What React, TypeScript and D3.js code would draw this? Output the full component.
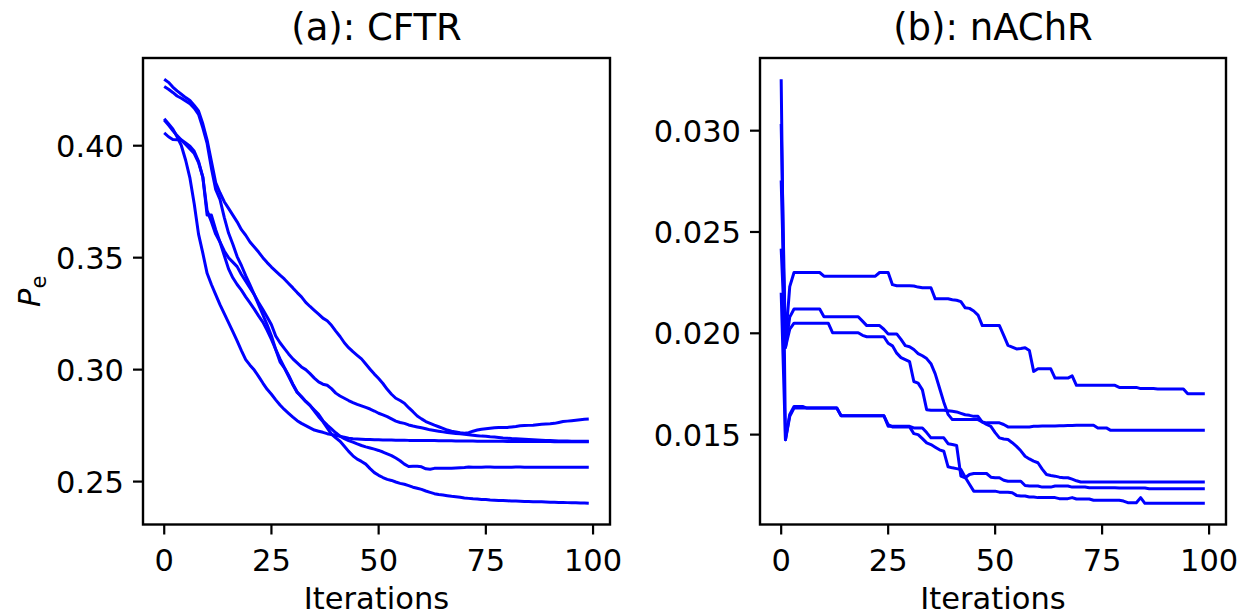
import React from "react";
import * as d3 from "d3";

const iterations = Array.from({ length: 100 }, (_, i) => i);
const xTicks = [0, 25, 50, 75, 100];
const cftrTicks = [0.25, 0.3, 0.35, 0.4];
const nachrTicks = [0.015, 0.02, 0.025, 0.03];
const titles = ["(a): CFTR", "(b): nAChR"];

const cftrRun1 = [
  0.4297, 0.4283, 0.4262, 0.4245, 0.423, 0.4215, 0.4202, 0.418, 0.4155, 0.4098,
  0.4025, 0.393, 0.3835, 0.379, 0.375, 0.372, 0.369, 0.366, 0.3625, 0.36,
  0.357, 0.3548, 0.3525, 0.35, 0.3478, 0.3458, 0.344, 0.3422, 0.3405, 0.3385,
  0.3365, 0.3344, 0.3325, 0.33, 0.3282, 0.3265, 0.3248, 0.323, 0.3218, 0.3198,
  0.3172, 0.3148, 0.312, 0.3098, 0.308, 0.3064, 0.3048, 0.3025, 0.3002, 0.298,
  0.296, 0.2938, 0.2912, 0.289, 0.2872, 0.2862, 0.285, 0.283, 0.2812, 0.2793,
  0.278, 0.2768, 0.276, 0.2752, 0.2745, 0.2738, 0.273, 0.2725, 0.2722, 0.2718,
  0.2716, 0.2718, 0.2725, 0.273, 0.2734, 0.2736, 0.2738, 0.274, 0.2741, 0.2742,
  0.2742, 0.2744, 0.2746, 0.2749, 0.275, 0.2751, 0.2752, 0.2754, 0.2756, 0.2757,
  0.2758, 0.276, 0.2764, 0.2768, 0.277, 0.2772, 0.2774, 0.2776, 0.2778, 0.2779,
];
const cftrRun2 = [
  0.4264, 0.4252, 0.4238, 0.4222, 0.4212, 0.42, 0.4188, 0.4168, 0.414, 0.408,
  0.401, 0.39, 0.3805, 0.376, 0.368, 0.361, 0.356, 0.3505, 0.3465, 0.342,
  0.3378, 0.3335, 0.329, 0.3245, 0.32, 0.315, 0.309, 0.3035, 0.3008, 0.297,
  0.2932, 0.2898, 0.288, 0.2858, 0.284, 0.2815, 0.279, 0.2768, 0.274, 0.2712,
  0.2695, 0.268, 0.2658, 0.2635, 0.2615, 0.26, 0.259, 0.2578, 0.2558, 0.254,
  0.2528, 0.2518, 0.251, 0.2505, 0.2498, 0.2492, 0.2488, 0.2482, 0.2475, 0.247,
  0.2465, 0.2458, 0.2452, 0.2446, 0.2442, 0.244, 0.2437, 0.2434, 0.2432, 0.243,
  0.2427, 0.2425, 0.2423, 0.2422, 0.242, 0.242, 0.2418, 0.2417, 0.2416, 0.2415,
  0.2414, 0.2413, 0.2413, 0.2412, 0.2411, 0.2411, 0.241, 0.241, 0.241, 0.2409,
  0.2408, 0.2408, 0.2407, 0.2407, 0.2406, 0.2405, 0.2405, 0.2404, 0.2404, 0.2403,
];
const cftrRun3 = [
  0.412, 0.4098, 0.4075, 0.404, 0.4, 0.3935, 0.3855, 0.374, 0.3605, 0.352,
  0.343, 0.338, 0.3335, 0.329, 0.325, 0.321, 0.317, 0.3128, 0.3085, 0.3045,
  0.302, 0.2998, 0.297, 0.294, 0.2912, 0.289, 0.2865, 0.2842, 0.2822, 0.2805,
  0.2788, 0.2772, 0.276, 0.275, 0.274, 0.273, 0.2725, 0.272, 0.2714, 0.271,
  0.2706, 0.2702, 0.2698, 0.2694, 0.2691, 0.269, 0.2689, 0.2688, 0.2688, 0.2687,
  0.2687, 0.2686, 0.2686, 0.2686, 0.2685, 0.2685, 0.2685, 0.2684, 0.2684, 0.2684,
  0.2683, 0.2683, 0.2683, 0.2683, 0.2682, 0.2682, 0.2682, 0.2682, 0.2681, 0.2681,
  0.2681, 0.2681, 0.2681, 0.268, 0.268, 0.268, 0.268, 0.268, 0.268, 0.268,
  0.2679, 0.2679, 0.2679, 0.2679, 0.2679, 0.2679, 0.2679, 0.2679, 0.2679, 0.2679,
  0.2679, 0.2678, 0.2678, 0.2678, 0.2678, 0.2678, 0.2678, 0.2678, 0.2678, 0.2678,
];
const cftrRun4 = [
  0.4115, 0.4092, 0.4068, 0.4045, 0.4025, 0.4005, 0.3985, 0.3965, 0.3925, 0.386,
  0.369, 0.369, 0.3625, 0.357, 0.351, 0.345, 0.341, 0.338, 0.3355, 0.3325,
  0.3298, 0.327, 0.324, 0.3212, 0.3175, 0.3135, 0.309, 0.3048, 0.301, 0.2975,
  0.2935, 0.29, 0.2878, 0.2858, 0.284, 0.282, 0.28, 0.2772, 0.2752, 0.2735,
  0.2718, 0.2703, 0.2692, 0.2683, 0.2676, 0.2668, 0.2661, 0.2655, 0.265, 0.2645,
  0.2639, 0.2632, 0.2624, 0.2616, 0.2605, 0.2593, 0.2578, 0.2567, 0.2568, 0.2568,
  0.2566, 0.2557, 0.2555, 0.2559, 0.256, 0.256, 0.256, 0.256, 0.2561, 0.2562,
  0.2563, 0.2565, 0.2564, 0.2564, 0.2564, 0.2565, 0.2565, 0.2564, 0.2564, 0.2564,
  0.2564, 0.2564, 0.2565, 0.2565, 0.2564, 0.2564, 0.2564, 0.2564, 0.2564, 0.2564,
  0.2564, 0.2564, 0.2564, 0.2564, 0.2564, 0.2564, 0.2564, 0.2564, 0.2564, 0.2564,
];
const cftrRun5 = [
  0.4057, 0.404, 0.4028, 0.4027, 0.4026, 0.4012, 0.3998, 0.3975, 0.393, 0.386,
  0.371, 0.366, 0.3605, 0.357, 0.353, 0.35, 0.348, 0.346, 0.3425, 0.3395,
  0.3365, 0.3335, 0.33, 0.3268, 0.3235, 0.32, 0.315, 0.312, 0.3095, 0.307,
  0.3048, 0.303, 0.3012, 0.3, 0.2982, 0.2962, 0.2945, 0.2935, 0.293, 0.2915,
  0.2895, 0.2882, 0.2872, 0.2862, 0.2853, 0.2845, 0.2838, 0.2831, 0.2824, 0.2815,
  0.2805, 0.2798, 0.279, 0.278, 0.277, 0.2764, 0.276, 0.2753, 0.2748, 0.2744,
  0.274, 0.2736, 0.2731, 0.2728, 0.2725, 0.2722, 0.2719, 0.2717, 0.2715, 0.2713,
  0.2711, 0.2709, 0.2707, 0.2705, 0.2703, 0.2702, 0.27, 0.2699, 0.2697, 0.2695,
  0.2694, 0.2692, 0.2691, 0.269, 0.2689, 0.2688, 0.2687, 0.2686, 0.2685, 0.2684,
  0.2683, 0.2682, 0.2681, 0.2681, 0.2681, 0.268, 0.268, 0.268, 0.268, 0.268,
];

const nachrRun1 = [
  0.02754, 0.0196, 0.0223, 0.023, 0.023, 0.023, 0.023, 0.023, 0.023, 0.023,
  0.02282, 0.02282, 0.02282, 0.02282, 0.02282, 0.02282, 0.02282, 0.02282, 0.02282, 0.02282,
  0.02282, 0.02282, 0.02282, 0.023, 0.023, 0.023, 0.0224, 0.02235, 0.02235, 0.02235,
  0.02235, 0.02233, 0.02228, 0.02225, 0.02225, 0.02225, 0.0217, 0.0217, 0.0217, 0.0217,
  0.02166, 0.02163, 0.02156, 0.02126, 0.02123, 0.0211, 0.0209, 0.02038, 0.02038, 0.02038,
  0.02038, 0.02038, 0.0199, 0.0194, 0.01932, 0.01923, 0.01925, 0.01929, 0.01915, 0.01812,
  0.01825, 0.01825, 0.01825, 0.01825, 0.01779, 0.01779, 0.01779, 0.01779, 0.0179, 0.01743,
  0.01743, 0.01743, 0.01743, 0.01743, 0.01743, 0.01743, 0.01743, 0.01743, 0.01743, 0.01733,
  0.01733, 0.01733, 0.01733, 0.01733, 0.01727, 0.01727, 0.01727, 0.01727, 0.01725, 0.01725,
  0.01725, 0.01725, 0.01725, 0.01725, 0.01725, 0.01702, 0.01702, 0.01702, 0.01702, 0.01702,
];
const nachrRun2 = [
  0.03033, 0.0193, 0.0208, 0.0212, 0.0212, 0.0212, 0.0212, 0.0212, 0.0212, 0.0212,
  0.02082, 0.02082, 0.02082, 0.02082, 0.02082, 0.02082, 0.02082, 0.02082, 0.02082, 0.0206,
  0.02038, 0.02038, 0.02038, 0.02038, 0.0202, 0.01997, 0.01997, 0.01997, 0.0197, 0.01939,
  0.01934, 0.0192, 0.019, 0.01889, 0.01875, 0.0185, 0.018, 0.0173, 0.0166, 0.016,
  0.01574, 0.01574, 0.01574, 0.01574, 0.01574, 0.01574, 0.01574, 0.01562, 0.01558, 0.01558,
  0.01558, 0.01558, 0.0155, 0.01538, 0.01538, 0.01538, 0.01538, 0.01538, 0.01538, 0.01541,
  0.01541, 0.01542, 0.01542, 0.01543, 0.01543, 0.01544, 0.01544, 0.01545, 0.01545, 0.01546,
  0.01546, 0.01546, 0.01546, 0.01546, 0.01533, 0.01533, 0.01533, 0.01521, 0.01521, 0.01521,
  0.01521, 0.01521, 0.01521, 0.01521, 0.01521, 0.01521, 0.01521, 0.01521, 0.01521, 0.01521,
  0.01521, 0.01521, 0.01521, 0.01521, 0.01521, 0.01521, 0.01521, 0.01521, 0.01521, 0.01521,
];
const nachrRun3 = [
  0.02418, 0.0193, 0.0202, 0.0205, 0.0205, 0.0205, 0.0205, 0.0205, 0.0205, 0.0205,
  0.0205, 0.0205, 0.02003, 0.02003, 0.02003, 0.02003, 0.02003, 0.02003, 0.02003, 0.0199,
  0.01983, 0.01983, 0.01983, 0.01983, 0.01983, 0.01951, 0.01938, 0.01902, 0.0188, 0.0187,
  0.0186, 0.01762, 0.01754, 0.01721, 0.01623, 0.0162, 0.0162, 0.0162, 0.0162, 0.01618,
  0.01615, 0.01612, 0.01605, 0.01598, 0.01595, 0.0159, 0.0159, 0.01562, 0.0155, 0.01541,
  0.0151, 0.01484, 0.01478, 0.01476, 0.0146, 0.01442, 0.0142, 0.01393, 0.0138, 0.01369,
  0.01361, 0.0133, 0.01303, 0.01298, 0.01295, 0.0129, 0.01287, 0.01287, 0.0128, 0.01272,
  0.01266, 0.01266, 0.01266, 0.01266, 0.01266, 0.01266, 0.01266, 0.01266, 0.01266, 0.01266,
  0.01266, 0.01266, 0.01266, 0.01266, 0.01266, 0.01266, 0.01266, 0.01266, 0.01266, 0.01266,
  0.01266, 0.01266, 0.01266, 0.01266, 0.01266, 0.01266, 0.01266, 0.01266, 0.01266, 0.01266,
];
const nachrRun4 = [
  0.03254, 0.01475, 0.0159, 0.01631, 0.01631, 0.01631, 0.01631, 0.01631, 0.01631, 0.01631,
  0.01631, 0.01631, 0.01631, 0.01631, 0.01593, 0.01593, 0.01593, 0.01593, 0.01593, 0.01593,
  0.01593, 0.01593, 0.01593, 0.01593, 0.01593, 0.01541, 0.01541, 0.01541, 0.01541, 0.01541,
  0.01541, 0.01533, 0.01533, 0.01533, 0.0151, 0.01484, 0.01484, 0.01484, 0.01484, 0.01455,
  0.01451, 0.01446, 0.01295, 0.01287, 0.01303, 0.01308, 0.01308, 0.01308, 0.01308, 0.0129,
  0.01287, 0.01287, 0.01275, 0.0127, 0.0127, 0.0127, 0.0127, 0.01249, 0.01246, 0.01246,
  0.01246, 0.01241, 0.01241, 0.01241, 0.01246, 0.01246, 0.01246, 0.01246, 0.01241, 0.01241,
  0.01241, 0.01241, 0.01238, 0.01238, 0.01238, 0.01238, 0.01238, 0.01238, 0.01238, 0.01237,
  0.01237, 0.01237, 0.01237, 0.01237, 0.01236, 0.01236, 0.01233, 0.01233, 0.01233, 0.01233,
  0.01233, 0.01233, 0.01233, 0.01233, 0.01233, 0.01233, 0.01233, 0.01233, 0.01233, 0.01233,
];
const nachrRun5 = [
  0.022, 0.01475, 0.016, 0.01639, 0.01639, 0.01639, 0.01631, 0.01631, 0.01631, 0.01631,
  0.01631, 0.01631, 0.01631, 0.01631, 0.01593, 0.01593, 0.01593, 0.01593, 0.01593, 0.01593,
  0.01593, 0.01593, 0.01593, 0.01593, 0.01593, 0.01549, 0.01538, 0.01538, 0.01538, 0.01538,
  0.01538, 0.01505, 0.015, 0.0148, 0.01459, 0.01451, 0.01438, 0.01425, 0.01418, 0.01341,
  0.01336, 0.01332, 0.01328, 0.0129, 0.01255, 0.01221, 0.01221, 0.01221, 0.01221, 0.01221,
  0.01221, 0.01216, 0.01216, 0.01216, 0.01213, 0.012, 0.01197, 0.01197, 0.01192, 0.01192,
  0.01189, 0.01189, 0.01189, 0.01189, 0.01189, 0.01184, 0.01184, 0.01184, 0.01189, 0.01182,
  0.01182, 0.01182, 0.01182, 0.01176, 0.01176, 0.01176, 0.01176, 0.01176, 0.01176, 0.01176,
  0.01172, 0.01164, 0.01164, 0.01164, 0.01189, 0.01161, 0.01161, 0.01161, 0.01161, 0.01161,
  0.01161, 0.01161, 0.01161, 0.01161, 0.01161, 0.01161, 0.01161, 0.01161, 0.01161, 0.01161,
];

const cftrSeries = [cftrRun1, cftrRun2, cftrRun3, cftrRun4, cftrRun5];
const nachrSeries = [nachrRun1, nachrRun2, nachrRun3, nachrRun4, nachrRun5];

const FONT = "DejaVu Sans, sans-serif";
const TOP = 58;
const BOTTOM = 524.5;
const TICK_FS = 30.5;
const TITLE_FS = 37;

function Panel({ x0, x1, title, series, yTicks, fmt, showYLabel }) {
  const x = d3.scaleLinear().domain([-4.95, 103.95]).range([x0, x1]);
  const all = series.flat();
  const lo = d3.min(all);
  const hi = d3.max(all);
  const pad = (hi - lo) * 0.05;
  const y = d3.scaleLinear().domain([lo - pad, hi + pad]).range([BOTTOM, TOP]);
  const line = d3
    .line()
    .x((_, i) => x(iterations[i]))
    .y((d) => y(d));
  const f = d3.format(fmt);
  return (
    <g>
      {series.map((s, k) => (
        <path key={k} d={line(s)} fill="none" stroke="#0000ff" strokeWidth={3} strokeLinejoin="round" />
      ))}
      <rect x={x0} y={TOP} width={x1 - x0} height={BOTTOM - TOP} fill="none" stroke="#000" strokeWidth={2.4} />
      {xTicks.map((t) => (
        <g key={t}>
          <line x1={x(t)} x2={x(t)} y1={BOTTOM} y2={BOTTOM + 10} stroke="#000" strokeWidth={2.2} />
          <text x={x(t)} y={571} textAnchor="middle" fontSize={TICK_FS} fontFamily={FONT}>
            {t}
          </text>
        </g>
      ))}
      {yTicks.map((t) => (
        <g key={t}>
          <line x1={x0 - 10} x2={x0} y1={y(t)} y2={y(t)} stroke="#000" strokeWidth={2.2} />
          <text x={x0 - 19} y={y(t)} dy="0.36em" textAnchor="end" fontSize={TICK_FS} fontFamily={FONT}>
            {f(t)}
          </text>
        </g>
      ))}
      <text x={(x0 + x1) / 2} y={608.5} textAnchor="middle" fontSize={TICK_FS} fontFamily={FONT}>
        Iterations
      </text>
      <text x={(x0 + x1) / 2} y={40} textAnchor="middle" fontSize={TITLE_FS} fontFamily={FONT}>
        {title}
      </text>
      {showYLabel && (
        <text transform={`translate(40,${(TOP + BOTTOM) / 2}) rotate(-90)`} textAnchor="middle" fontSize={TICK_FS} fontFamily={FONT}>
          <tspan fontStyle="italic">P</tspan>
          <tspan fontSize={21} dy={6}>e</tspan>
        </text>
      )}
    </g>
  );
}

export default function App() {
  return (
    <div style={{ position: "absolute", left: 0, top: 0 }}>
      <svg width={1243} height={615} style={{ display: "block", background: "#fff" }}>
        <Panel x0={143} x1={610} title={titles[0]} series={cftrSeries} yTicks={cftrTicks} fmt=".2f" showYLabel={true} />
        <Panel x0={760} x1={1226} title={titles[1]} series={nachrSeries} yTicks={nachrTicks} fmt=".3f" showYLabel={false} />
      </svg>
    </div>
  );
}
